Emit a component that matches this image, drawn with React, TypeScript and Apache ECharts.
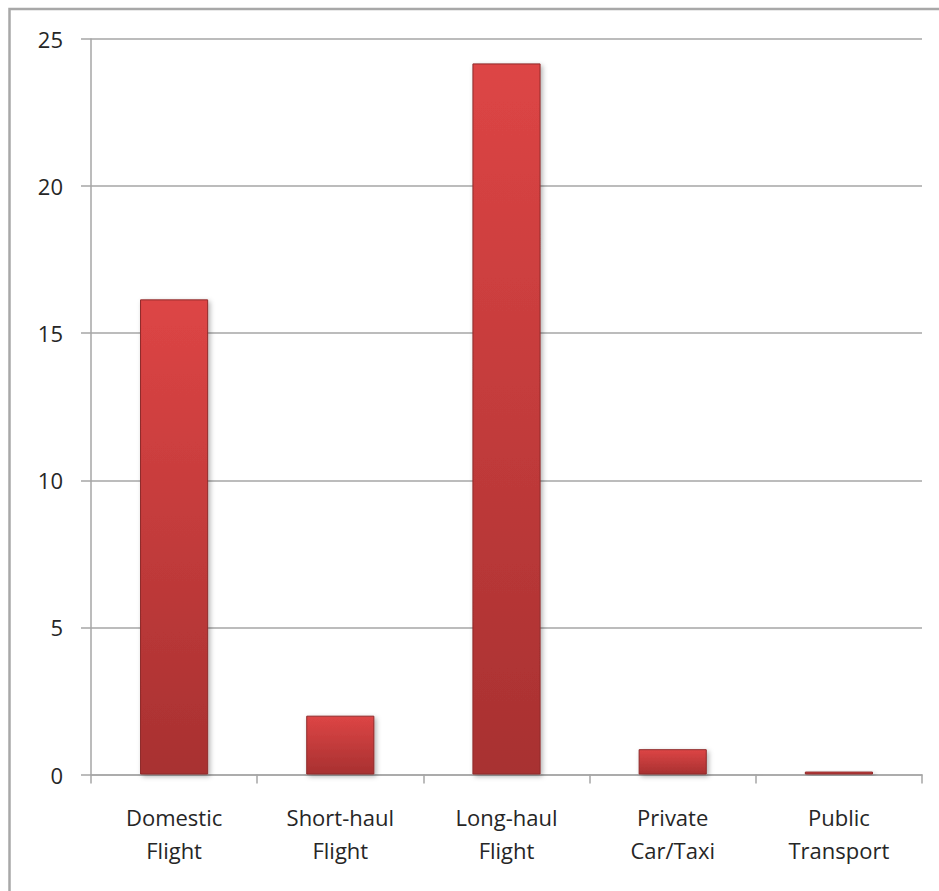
import React, { useEffect, useRef } from "react";
import * as echarts from "echarts";

const categories = [
  "Domestic\nFlight",
  "Short-haul\nFlight",
  "Long-haul\nFlight",
  "Private\nCar/Taxi",
  "Public\nTransport",
];
const values = [16.15, 2.0, 24.17, 0.86, 0.1];
const yMin = 0;
const yMax = 25;
const yInterval = 5;

export default function App() {
  const ref = useRef<HTMLDivElement>(null);
  useEffect(() => {
    if (!ref.current) return;
    const chart = echarts.init(ref.current, null, { renderer: "svg" });
    const font = "'Open Sans', 'Noto Sans', sans-serif";
    chart.setOption({
      animation: false,
      backgroundColor: "#ffffff",
      graphic: [
        {
          type: "rect",
          shape: { x: 9.5, y: 9, width: 1000, height: 1000 },
          style: { fill: "none", stroke: "#a8a8a8", lineWidth: 2.5 },
          silent: true,
        },
      ],
      grid: { left: 91, right: 17, top: 39, bottom: 116.5, containLabel: false },
      xAxis: {
        type: "category",
        data: categories,
        axisLine: { show: true, lineStyle: { color: "#a6a6a6", width: 1.5 } },
        axisTick: { show: true, length: 9, alignWithLabel: false, lineStyle: { color: "#a6a6a6", width: 1.5 } },
        axisLabel: {
          interval: 0,
          margin: 26,
          color: "#262626",
          fontFamily: font,
          fontSize: 22,
          lineHeight: 33,
        },
      },
      yAxis: {
        type: "value",
        min: yMin,
        max: yMax,
        interval: yInterval,
        axisLine: { show: true, lineStyle: { color: "#a6a6a6", width: 1.5 } },
        axisTick: { show: true, length: 10, lineStyle: { color: "#a6a6a6", width: 1.5 } },
        splitLine: { show: true, lineStyle: { color: "#a6a6a6", width: 1.5 } },
        axisLabel: {
          margin: 28,
          color: "#262626",
          fontFamily: font,
          fontSize: 22,
        },
      },
      series: [
        {
          type: "bar",
          data: values,
          barWidth: "41%",
          itemStyle: {
            color: new echarts.graphic.LinearGradient(0, 0, 0, 1, [
              { offset: 0, color: "#dd4545" },
              { offset: 1, color: "#a83131" },
            ]),
            borderColor: "#8f2a2a",
            borderWidth: 1,
            shadowBlur: 5,
            shadowOffsetX: 2,
            shadowOffsetY: 2,
            shadowColor: "rgba(0,0,0,0.3)",
          },
        },
      ],
    });
    return () => chart.dispose();
  }, []);
  return (
    <div
      style={{
        position: "fixed",
        left: 0,
        top: 0,
        width: 939,
        height: 891,
        overflow: "hidden",
        background: "#fff",
      }}
    >
      <div ref={ref} style={{ width: 939, height: 891 }} />
    </div>
  );
}
